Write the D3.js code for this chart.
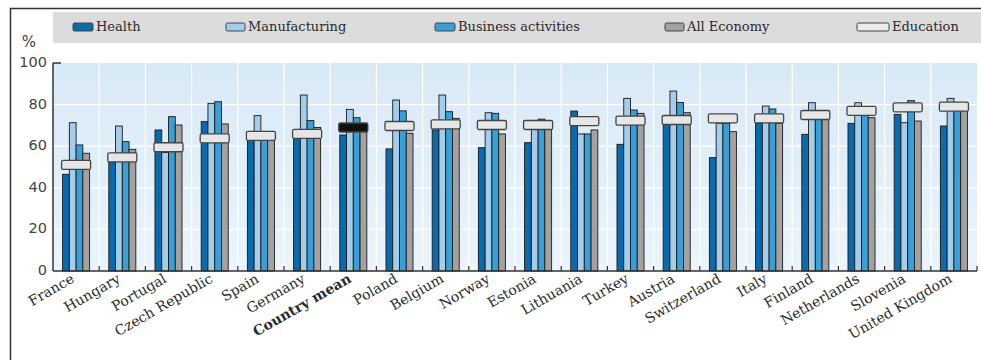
<!DOCTYPE html>
<html>
<head>
<meta charset="utf-8">
<script src="https://cdn.jsdelivr.net/npm/d3@7"></script>
<style>
  body { margin: 0; background: #fff; }
  svg { display: block; }
</style>
</head>
<body>
<svg id="chart" width="981" height="360"></svg>
<script>
const countries = ["France", "Hungary", "Portugal", "Czech Republic", "Spain", "Germany",
  "Country mean", "Poland", "Belgium", "Norway", "Estonia", "Lithuania", "Turkey",
  "Austria", "Switzerland", "Italy", "Finland", "Netherlands", "Slovenia", "United Kingdom"];

const health        = [46.5, 52.5, 67.8, 71.8, 63, 64, 65.4, 58.7, 67.8, 59.3, 61.7, 76.9, 60.9, 70.7, 54.5, 71, 65.7, 71, 75.3, 69.7];
const manufacturing = [71.3, 69.7, 57, 80.6, 74.7, 84.6, 77.7, 82.2, 84.6, 76.1, 70, 65.9, 83, 86.5, 71, 79.3, 80.9, 80.9, 71.3, 83];
const business      = [60.6, 62.2, 74.2, 81.4, 64, 72.3, 73.7, 77, 76.6, 75.8, 73, 65.9, 77.4, 81, 71, 77.9, 74, 76, 81.9, 78];
const allEconomy    = [56.6, 58.5, 70.2, 70.7, 63, 69, 70, 66.2, 73.4, 65.9, 70, 67.8, 75.8, 76.1, 67, 71, 74, 73.7, 72.1, 78];
const education     = [51, 54.6, 59.5, 63.8, 65, 65.9, 69, 69.7, 70.5, 70.2, 70.2, 72.1, 72.3, 72.6, 73.4, 73.4, 75, 77, 78.7, 79];

const yTicks = [0, 20, 40, 60, 80, 100];

const seriesNames = ["Health", "Manufacturing", "Business activities", "All Economy"];
const seriesValues = [health, manufacturing, business, allEconomy];
const seriesColors = ["#0b6aac", "#a3cdea", "#3a9fd6", "#a2a2a2"];

const svg = d3.select("#chart");
const fontSerif = "'DejaVu Serif', serif";
const fontSans = "'DejaVu Sans', sans-serif";

// outer frame
svg.append("path")
  .attr("d", "M10.5,370 V8.5 H990")
  .attr("fill", "none")
  .attr("stroke", "#333")
  .attr("stroke-width", 1.5);

const margin = { left: 53, right: 977, top: 63, bottom: 271 };

const x = d3.scaleBand()
  .domain(countries)
  .range([margin.left, margin.right])
  .paddingInner(0)
  .paddingOuter(0);

const y = d3.scaleLinear()
  .domain([0, 100])
  .range([margin.bottom, margin.top]);

const bw = x.bandwidth();
const gw = bw * 0.585;
const x1 = d3.scaleBand()
  .domain(seriesNames)
  .range([(bw - gw) / 2, (bw + gw) / 2])
  .padding(0);

// plot background
const defs = svg.append("defs");
const grad = defs.append("linearGradient")
  .attr("id", "bg")
  .attr("x1", 0).attr("y1", 0).attr("x2", 0).attr("y2", 1);
grad.append("stop").attr("offset", "0%").attr("stop-color", "#d8e9f6");
grad.append("stop").attr("offset", "100%").attr("stop-color", "#ebf4fb");

svg.append("rect")
  .attr("x", margin.left)
  .attr("y", margin.top)
  .attr("width", margin.right - margin.left)
  .attr("height", margin.bottom - margin.top)
  .attr("fill", "url(#bg)");

// grid
svg.append("g")
  .selectAll("line")
  .data(yTicks.filter(d => d > 0 && d < 100))
  .join("line")
  .attr("x1", margin.left)
  .attr("x2", margin.right)
  .attr("y1", d => y(d))
  .attr("y2", d => y(d))
  .attr("stroke", "#fff")
  .attr("stroke-width", 1.2);

svg.append("g")
  .selectAll("line")
  .data(countries.slice(1))
  .join("line")
  .attr("x1", d => x(d))
  .attr("x2", d => x(d))
  .attr("y1", margin.top)
  .attr("y2", margin.bottom)
  .attr("stroke", "#fff")
  .attr("stroke-width", 1.2);

// legend band
svg.append("rect")
  .attr("x", margin.left)
  .attr("y", 12)
  .attr("width", 981 - margin.left)
  .attr("height", 31)
  .attr("fill", "#dcdcdc");

const legendItems = [
  { name: "Health", color: seriesColors[0], x: 73, w: 20 },
  { name: "Manufacturing", color: seriesColors[1], x: 226, w: 19 },
  { name: "Business activities", color: seriesColors[2], x: 435, w: 20 },
  { name: "All Economy", color: seriesColors[3], x: 665, w: 19 },
  { name: "Education", color: "#ececec", x: 857, w: 32 }
];

const legend = svg.append("g");
legendItems.forEach(item => {
  legend.append("rect")
    .attr("x", item.x)
    .attr("y", 23)
    .attr("width", item.w)
    .attr("height", 8)
    .attr("rx", 1.5)
    .attr("fill", item.color)
    .attr("stroke", "#444")
    .attr("stroke-width", 1);
  legend.append("text")
    .attr("x", item.x + item.w + 3)
    .attr("y", 27)
    .attr("dominant-baseline", "middle")
    .attr("font-family", fontSerif)
    .attr("font-size", 13)
    .attr("fill", "#2a2a2a")
    .text(item.name);
});

// bars
const groups = svg.append("g")
  .selectAll("g")
  .data(countries)
  .join("g")
  .attr("transform", d => `translate(${x(d)},0)`);

groups.selectAll("rect.bar")
  .data((d, i) => seriesNames.map((s, k) => ({ series: s, value: seriesValues[k][i], color: seriesColors[k] })))
  .join("rect")
  .attr("class", "bar")
  .attr("x", d => x1(d.series))
  .attr("y", d => y(d.value))
  .attr("width", x1.bandwidth())
  .attr("height", d => y(0) - y(d.value))
  .attr("fill", d => d.color)
  .attr("stroke", "#1a1a1a")
  .attr("stroke-width", 0.9);

// education markers
groups.append("rect")
  .attr("x", (bw - gw) / 2 - 1)
  .attr("y", (d, i) => y(education[i]) - 4.5)
  .attr("width", gw + 2)
  .attr("height", 9)
  .attr("rx", 1.5)
  .attr("fill", d => d === "Country mean" ? "#111" : "#e6e6e6")
  .attr("stroke", "#444")
  .attr("stroke-width", 1.3);

// axes
svg.append("line")
  .attr("x1", margin.left).attr("x2", margin.left)
  .attr("y1", margin.top).attr("y2", margin.bottom)
  .attr("stroke", "#333").attr("stroke-width", 1.5);
svg.append("line")
  .attr("x1", margin.left).attr("x2", margin.left + 8)
  .attr("y1", margin.top).attr("y2", margin.top)
  .attr("stroke", "#333").attr("stroke-width", 1.5);
svg.append("line")
  .attr("x1", margin.left).attr("x2", margin.right)
  .attr("y1", margin.bottom).attr("y2", margin.bottom)
  .attr("stroke", "#333").attr("stroke-width", 1.5);

svg.append("g")
  .selectAll("line")
  .data(countries.slice(1).concat(["__end"]))
  .join("line")
  .attr("x1", d => d === "__end" ? margin.right : x(d))
  .attr("x2", d => d === "__end" ? margin.right : x(d))
  .attr("y1", margin.bottom)
  .attr("y2", margin.bottom - 5)
  .attr("stroke", "#333")
  .attr("stroke-width", 1.2);

svg.append("g")
  .selectAll("text")
  .data(yTicks)
  .join("text")
  .attr("x", 47)
  .attr("y", d => y(d))
  .attr("text-anchor", "end")
  .attr("dominant-baseline", "middle")
  .attr("font-family", fontSans)
  .attr("font-size", 14.5)
  .attr("fill", "#444")
  .text(d => d);

svg.append("text")
  .attr("x", 29)
  .attr("y", 47)
  .attr("text-anchor", "middle")
  .attr("font-family", fontSans)
  .attr("font-size", 15)
  .attr("fill", "#444")
  .text("%");

// category labels
svg.append("g")
  .selectAll("text")
  .data(countries)
  .join("text")
  .attr("transform", d => `translate(${x(d) + bw / 2 - 3},${margin.bottom + 7}) rotate(-30)`)
  .attr("text-anchor", "end")
  .attr("dominant-baseline", "middle")
  .attr("font-family", fontSerif)
  .attr("font-size", 14)
  .attr("font-weight", d => d === "Country mean" ? "bold" : "normal")
  .attr("fill", "#2a2a2a")
  .text(d => d);
</script>
</body>
</html>
